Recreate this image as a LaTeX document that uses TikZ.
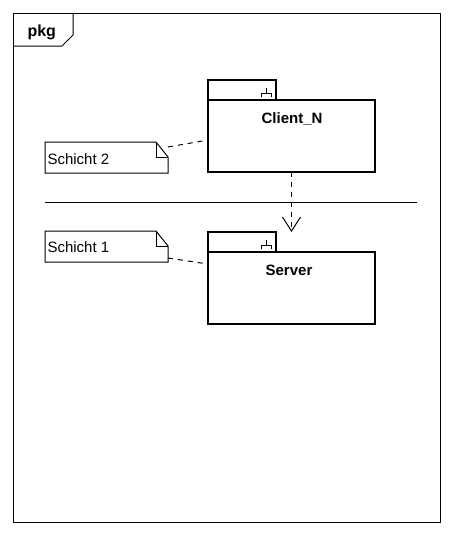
\documentclass[tikz,border=0pt]{standalone}
\usepackage{fontspec}
\setmainfont{Liberation Sans}
\usetikzlibrary{arrows.meta,calc}

\begin{document}
\begin{tikzpicture}[x=1pt, y=-1pt, line width=1pt,
    pkgtab/.style={draw, line width=2pt, outer sep=0pt, inner sep=0pt, anchor=north west,
        minimum width=68pt, minimum height=20pt},
    pkgbody/.style={draw, line width=2pt, outer sep=0pt, inner sep=0pt, anchor=north west,
        minimum width=167pt, minimum height=72pt},
    pkgname/.style={anchor=base, inner sep=0pt, font=\bfseries\fontsize{15}{18}\selectfont},
    notebox/.style={outer sep=0pt, inner sep=0pt, anchor=north west,
        minimum width=123pt, minimum height=31pt},
    notetext/.style={anchor=base west, inner sep=0pt, font=\fontsize{15}{18}\selectfont},
    dep/.style={dash pattern=on 5pt off 5pt, -{Straight Barb[length=14pt, width=18pt]}},
    link/.style={dash pattern=on 5pt off 5pt}]

    % Fix the size of the picture
    \useasboundingbox (0,0) rectangle (453,536);

    % Draw the frame and its tab
    \draw (13,13) rectangle (440,522);
    \draw (73,13) -- (73,35) -- (62,46) -- (13,46);
    \node[anchor=base west, inner sep=0pt, font=\bfseries\fontsize{16}{18}\selectfont] (pkg) at (27,36) {pkg};

    % Draw the packages
    \node[pkgtab] (ctab) at (208,80) {};
    \node[pkgbody] (client) at (208,100) {};
    \node[pkgname] (clientname) at (292,123) {Client\_N};
    \node[pkgtab] (stab) at (208,232) {};
    \node[pkgbody] (server) at (208,252) {};
    \node[pkgname] (servername) at (289,275) {Server};

    % Draw the small icons on the tabs
    \foreach \t in {ctab, stab} {
        \draw ($(\t.north east)+(-10,8)$) -- ($(\t.north east)+(-10,13)$);
        \draw ($(\t.north east)+(-15,17)$) -- ($(\t.north east)+(-15,13)$)
            -- ($(\t.north east)+(-5,13)$) -- ($(\t.north east)+(-5,17)$);
    }

    % Draw the notes
    \node[notebox] (note2) at (45,142) {};
    \node[notebox] (note1) at (45,231) {};
    \foreach \n in {note2, note1} {
        \draw (\n.north west) -- ($(\n.north east)+(-12,0)$) -- ($(\n.north east)+(0,15)$)
            -- (\n.south east) -- (\n.south west) -- cycle;
        \draw ($(\n.north east)+(-12,0)$) -- ($(\n.north east)+(-12,15)$) -- ($(\n.north east)+(0,15)$);
    }
    \node[notetext] (note2text) at (47,164) {Schicht 2};
    \node[notetext] (note1text) at (47,252) {Schicht 1};

    % Draw the line between the layers
    \coordinate (sepleft) at (45,202);
    \coordinate (sepright) at (417,202);
    \draw (sepleft) -- (sepright);

    % Connect the notes to the packages
    \draw[link] ($(note2.north east)+(0,5)$) -- ($(client.north west)+(0,40)$);
    \draw[link] ($(note1.south east)+(0,-4)$) -- ($(server.north west)+(0,12)$);

    % Draw the dependency
    \coordinate (deptip) at (client.south |- stab.north);
    \draw[dep] (client.south) -- (deptip);
\end{tikzpicture}
\end{document}
